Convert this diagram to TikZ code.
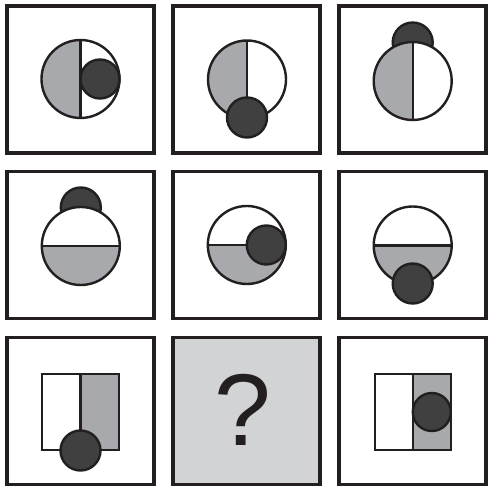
\documentclass[tikz,border=0pt]{standalone}
\usepackage{fontspec}
\setmainfont{Liberation Sans}
\definecolor{ink}{HTML}{231F20}
\definecolor{midgray}{HTML}{A7A9AC}
\definecolor{darkball}{HTML}{404041}
\definecolor{qgray}{HTML}{D1D3D4}
\tikzset{
  frame/.style={draw=ink, line width=3.6pt, fill=white},
  outl/.style={draw=ink, line width=2.4pt},
  ball/.style={draw=ink, line width=2.4pt, fill=darkball},
}
\begin{document}
\begin{tikzpicture}[x=1pt,y=-1pt]
\useasboundingbox (0,0) rectangle (489,486);
% frames
\foreach \cx/\cy/\nm in {80.5/79.5/a,246.5/79.5/b,412.5/79.5/c,80.5/245/d,246.5/245/e,412.5/245/f,80.5/411/g,412.5/411/i}{
  \draw[frame] (\cx-73.5,\cy-73.5) rectangle (\cx+73.5,\cy+73.5);
}
\node[draw=ink, line width=3.6pt, fill=qgray, minimum width=147pt, minimum height=147pt, inner sep=0pt] (q) at (246.5,411) {};
\node[text=ink, font=\fontsize{102}{102}\selectfont] (qm) at (243,409.5) {?};

% panel 1: vertical split, ball inside right
\begin{scope}[shift={(80.5,79)}]
  \fill[white] (0,0) circle (39);
  \fill[midgray] (0,-39) arc (270:90:39) -- cycle;
  \draw[outl] (0,-39) -- (0,39);
  \draw[outl] (0,0) circle (39);
  \draw[ball] (19.5,0) circle (19.5);
\end{scope}
% panel 2: ball at bottom, in front
\begin{scope}[shift={(247,79.5)}]
  \fill[white] (0,0) circle (39);
  \fill[midgray] (0,-39) arc (270:90:39) -- cycle;
  \draw[outl] (0,-39) -- (0,39);
  \draw[outl] (0,0) circle (39);
  \draw[ball] (0,38) circle (20);
\end{scope}
% panel 3: ball at top, behind
\begin{scope}[shift={(412.7,81)}]
  \draw[ball] (0,-38.5) circle (20);
  \fill[white] (0,0) circle (39);
  \fill[midgray] (0,-39) arc (270:90:39) -- cycle;
  \draw[outl] (0,-39) -- (0,39);
  \draw[outl] (0,0) circle (39);
\end{scope}
% panel 4: horizontal split, ball at top behind
\begin{scope}[shift={(80.8,246)}]
  \draw[ball] (0,-38.5) circle (20);
  \fill[white] (0,0) circle (39);
  \fill[midgray] (-39,0) arc (180:0:39) -- cycle;
  \draw[outl] (-39,0) -- (39,0);
  \draw[outl] (0,0) circle (39);
\end{scope}
% panel 5: horizontal split, ball inside right
\begin{scope}[shift={(246.8,245)}]
  \fill[white] (0,0) circle (39);
  \fill[midgray] (-39,0) arc (180:0:39) -- cycle;
  \draw[outl] (-39,0) -- (39,0);
  \draw[outl] (0,0) circle (39);
  \draw[ball] (19.5,0) circle (19.5);
\end{scope}
% panel 6: horizontal split, ball at bottom in front
\begin{scope}[shift={(412.7,245.5)}]
  \fill[white] (0,0) circle (39);
  \fill[midgray] (-39,0) arc (180:0:39) -- cycle;
  \draw[outl] (-39,0) -- (39,0);
  \draw[outl] (0,0) circle (39);
  \draw[ball] (0,38) circle (20);
\end{scope}
% panel 7: rectangle, ball at bottom
\begin{scope}[shift={(80.5,412)}]
  \fill[white] (-38.5,-38) rectangle (38.5,38);
  \fill[midgray] (0,-38) rectangle (38.5,38);
  \draw[outl] (0,-38) -- (0,38);
  \draw[outl] (-38.5,-38) rectangle (38.5,38);
  \draw[ball] (0,38.5) circle (20);
\end{scope}
% panel 9: rectangle, ball inside right
\begin{scope}[shift={(412.8,412)}]
  \fill[white] (-38,-38) rectangle (38,38);
  \fill[midgray] (0,-38) rectangle (38,38);
  \draw[outl] (0,-38) -- (0,38);
  \draw[outl] (-38,-38) rectangle (38,38);
  \draw[ball] (19,0) circle (19);
\end{scope}
\end{tikzpicture}
\end{document}
